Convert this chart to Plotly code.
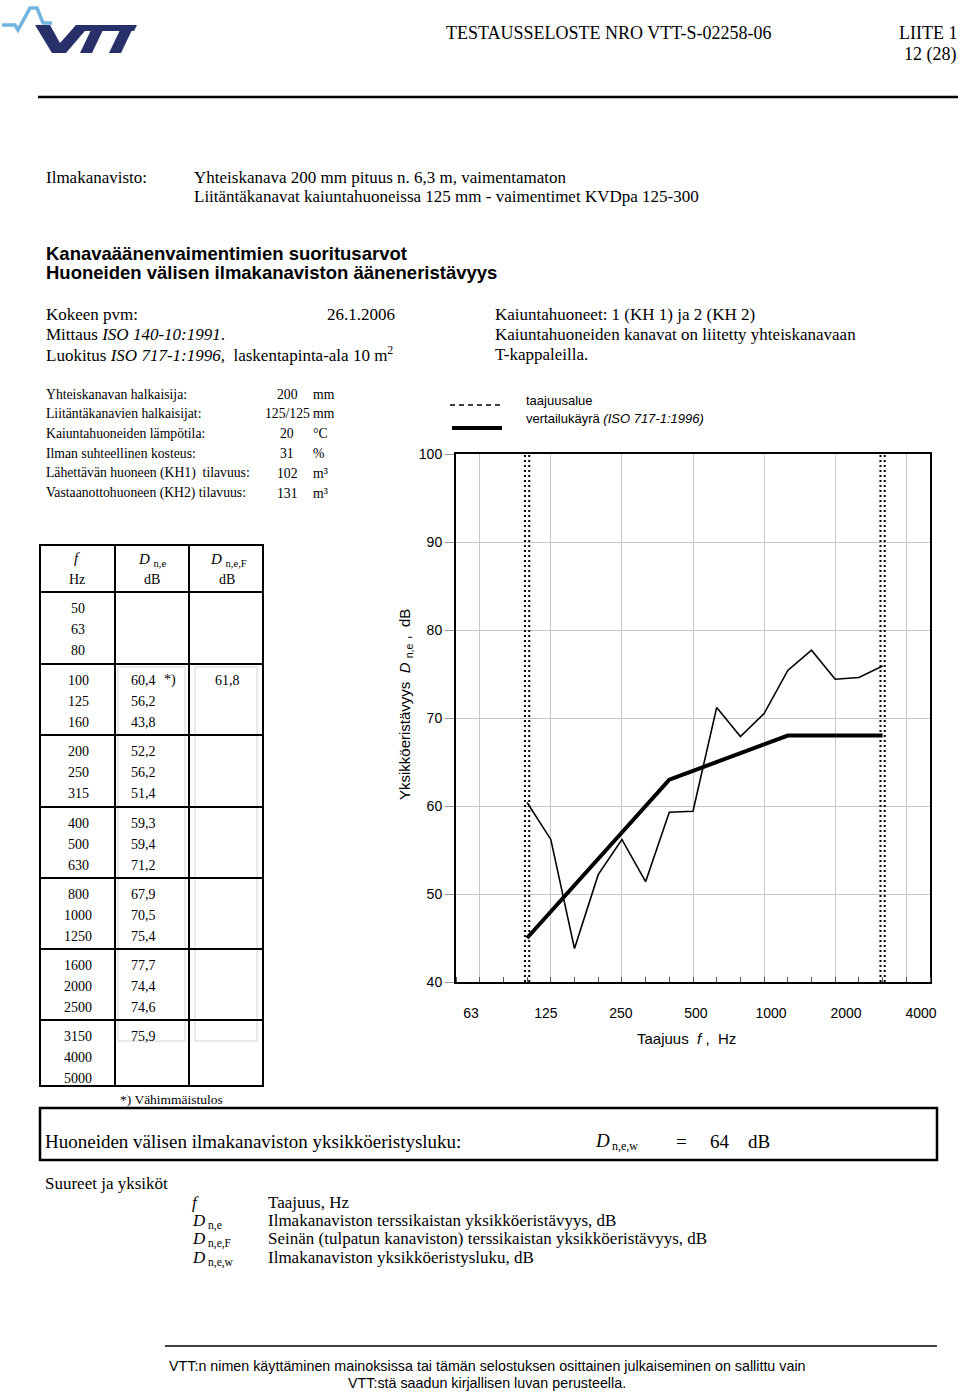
import plotly.graph_objects as go

# ---------------- data ----------------
BANDS = ["50", "63", "80", "100", "125", "160", "200", "250", "315", "400", "500",
         "630", "800", "1000", "1250", "1600", "2000", "2500", "3150", "4000", "5000"]
DNE_BANDS = ["100", "125", "160", "200", "250", "315", "400", "500", "630", "800",
             "1000", "1250", "1600", "2000", "2500", "3150"]
DNE_VALUES = [60.4, 56.2, 43.8, 52.2, 56.2, 51.4, 59.3, 59.4, 71.2, 67.9,
              70.5, 75.4, 77.7, 74.4, 74.6, 75.9]
REF_VALUES = [45, 48, 51, 54, 57, 60, 63, 64, 65, 66, 67, 68, 68, 68, 68, 68]
DNEF_BANDS = ["100"]
DNEF_VALUES = [61.8]
RANGE_BANDS = ["100", "3150"]
TICK_LABELS = ["63", "125", "250", "500", "1000", "2000", "4000"]
Y_MIN, Y_MAX = 40, 100
DNEW = 64

PARAM_LABELS = ["Yhteiskanavan halkaisija:", "Liitäntäkanavien halkaisijat:",
                "Kaiuntahuoneiden lämpötila:", "Ilman suhteellinen kosteus:",
                "Lähettävän huoneen (KH1)  tilavuus:", "Vastaanottohuoneen (KH2) tilavuus:"]
PARAM_VALUES = ["200", "125/125", "20", "31", "102", "131"]
PARAM_UNITS = ["mm", "mm", "°C", "%", "m³", "m³"]

# ---------------- page geometry ----------------
W, H = 960, 1392
L, R, T, B = 456, 930, 454, 982
SERIF = "Liberation Serif, Times New Roman, serif"
SANS = "Liberation Sans, Arial, sans-serif"


def px(x):
    return (x - L) / (R - L)


def py(y):
    return (B - y) / (B - T)


ann = []
shapes = []


def txt(x, y, s, size=16, fam=SERIF, xa="left", angle=0, color="black",
        style="normal", weight="normal"):
    ann.append(dict(xref="paper", yref="paper", x=px(x), y=py(y), text=s,
                    showarrow=False, xanchor=xa, yanchor="middle", textangle=angle,
                    font=dict(family=fam, size=size, color=color, style=style, weight=weight),
                    borderpad=0))


def seg(x0, y0, x1, y1, w=1.0, c="black", dash=None):
    ln = dict(color=c, width=w)
    if dash:
        ln["dash"] = dash
    shapes.append(dict(type="line", xref="paper", yref="paper", x0=px(x0), y0=py(y0),
                       x1=px(x1), y1=py(y1), line=ln))


def rect(x0, y0, x1, y1, w=1.0, c="black"):
    shapes.append(dict(type="rect", xref="paper", yref="paper", x0=px(x0), y0=py(y0),
                       x1=px(x1), y1=py(y1), line=dict(color=c, width=w)))


def poly(points, fill):
    d = "M " + " L ".join(f"{px(a):.5f},{py(b):.5f}" for a, b in points) + " Z"
    shapes.append(dict(type="path", xref="paper", yref="paper", path=d,
                       fillcolor=fill, line=dict(width=0)))


def polyline(points, color, w):
    d = "M " + " L ".join(f"{px(a):.5f},{py(b):.5f}" for a, b in points)
    shapes.append(dict(type="path", xref="paper", yref="paper", path=d,
                       line=dict(color=color, width=w)))


def fmt(v):
    return f"{v:.1f}".replace(".", ",")


# ---------------- logo ----------------
polyline([(2, 25), (15, 25), (18, 30), (30, 8), (37, 8), (43, 23), (52, 23)], "#72B4E2", 3.5)
NAVY = "#28306A"
poly([(35, 25), (50, 25), (60, 43), (76, 25), (90, 25), (66, 53), (52, 53)], NAVY)
poly([(76, 25), (137, 25), (134, 31), (73, 31)], NAVY)
poly([(91, 30), (103, 30), (92, 53), (80, 53)], NAVY)
poly([(120, 30), (132, 30), (121, 53), (109, 53)], NAVY)

# ---------------- header ----------------
txt(445, 33, "TESTAUSSELOSTE NRO VTT-S-02258-06", 18)
txt(958, 33, "LIITE 1", 18, xa="right")
txt(958, 54, "12 (28)", 18, xa="right")
seg(38, 97, 958, 97, 2.5)

txt(45, 177, "Ilmakanavisto:", 17)
txt(193, 177, "Yhteiskanava 200 mm pituus n. 6,3 m, vaimentamaton", 17)
txt(193, 196, "Liitäntäkanavat kaiuntahuoneissa 125 mm - vaimentimet KVDpa 125-300", 17)

txt(45, 253, "Kanavaäänenvaimentimien suoritusarvot", 18.5, SANS, weight="bold")
txt(45, 272, "Huoneiden välisen ilmakanaviston ääneneristävyys", 18.5, SANS, weight="bold")

txt(45, 314, "Kokeen pvm:", 17)
txt(396, 314, "26.1.2006", 17, xa="right")
txt(45, 334, "Mittaus <i>ISO 140-10:1991</i>.", 17)
txt(45, 354, "Luokitus <i>ISO 717-1:1996,</i>  laskentapinta-ala 10 m<sup>2</sup>", 17)
txt(494, 314, "Kaiuntahuoneet: 1 (KH 1) ja 2 (KH 2)", 17)
txt(494, 334, "Kaiuntahuoneiden kanavat on liitetty yhteiskanavaan", 17)
txt(494, 354, "T-kappaleilla.", 17)

for i, (lab, val, unit) in enumerate(zip(PARAM_LABELS, PARAM_VALUES, PARAM_UNITS)):
    yy = 394 + i * 19.8
    txt(45, yy, lab, 13.7)
    if len(val) > 3:
        txt(311, yy, val, 13.7, xa="right")
    else:
        txt(287, yy, val, 13.7, xa="center")
    txt(312, yy, unit, 13.7)

# ---------------- legend (drawn) ----------------
seg(450, 405, 502, 405, 1.5, dash="5px,4px")
seg(452, 428, 502, 428, 4)
txt(525, 400, "taajuusalue", 13, SANS)
txt(525, 418, "vertailukäyrä <i>(ISO 717-1:1996)</i>", 13, SANS)

# ---------------- table ----------------
TX0, TX1, TX2, TX3 = 40, 115, 189, 263
TY_TOP, TY_HEAD, TY_BOT = 545, 592, 1086
GROUP_TOPS = [592, 664, 735, 807, 878, 949, 1020]
rect(118, 667, 185, 1041, 1, "#d4d4d4")
rect(195, 667, 257, 1041, 1, "#d4d4d4")
rect(TX0, TY_TOP, TX3, TY_BOT, 2)
seg(TX1, TY_TOP, TX1, TY_BOT, 2)
seg(TX2, TY_TOP, TX2, TY_BOT, 2)
for gy in GROUP_TOPS:
    seg(TX0, gy, TX3, gy, 2)

txt(77, 558, "f", 15, xa="center", style="italic")
txt(77, 579, "Hz", 14, xa="center")
txt(152, 560, "<i>D</i> <sub>n,e</sub>", 15, xa="center")
txt(152, 579, "dB", 14, xa="center")
txt(228, 560, "<i>D</i> <sub>n,e,F</sub>", 15, xa="center")
txt(227, 579, "dB", 14, xa="center")

for i, band in enumerate(BANDS):
    g, k = divmod(i, 3)
    yy = GROUP_TOPS[g] + 16 + 21 * k
    txt(78, yy, band, 14, xa="center")
    if band in DNE_BANDS:
        txt(130, yy, fmt(DNE_VALUES[DNE_BANDS.index(band)]), 14)
    if band in DNEF_BANDS:
        txt(227, yy, fmt(DNEF_VALUES[DNEF_BANDS.index(band)]), 14, xa="center")
    if band == RANGE_BANDS[0]:
        txt(170, yy, "*)", 14, xa="center")
txt(171, 1099, "*) Vähimmäistulos", 13.5, xa="center")

# ---------------- result box ----------------
rect(40, 1108, 937, 1160, 2.5)
txt(44, 1141, "Huoneiden välisen ilmakanaviston yksikköeristysluku:", 19)
txt(594, 1140, "D", 19, style="italic")
txt(611, 1146, "n,e,w", 12)
txt(681, 1141, "=", 19, xa="center")
txt(720, 1141, str(DNEW), 19, xa="center")
txt(759, 1141, "dB", 19, xa="center")

# ---------------- quantities ----------------
txt(44, 1183, "Suureet ja yksiköt", 17)
SYMS = [("f", ""), ("D", "n,e"), ("D", "n,e,F"), ("D", "n,e,w")]
DESCS = ["Taajuus, Hz", "Ilmakanaviston terssikaistan yksikköeristävyys, dB",
         "Seinän (tulpatun kanaviston) terssikaistan yksikköeristävyys, dB",
         "Ilmakanaviston yksikköeristysluku, dB"]
for i, ((s, sub), d) in enumerate(zip(SYMS, DESCS)):
    yy = [1202, 1220, 1238, 1257][i]
    txt(191, yy, s, 17, style="italic")
    if sub:
        txt(207, yy + 5, sub, 11.5)
    txt(267, yy, d, 17)

# ---------------- footer ----------------
seg(165, 1346, 937, 1346, 1.5)
txt(487, 1366, "VTT:n nimen käyttäminen mainoksissa tai tämän selostuksen osittainen julkaiseminen on sallittu vain", 14.3, SANS, xa="center")
txt(487, 1383, "VTT:stä saadun kirjallisen luvan perusteella.", 14.3, SANS, xa="center")

# ---------------- chart ----------------
fig = go.Figure()
idx = {b: i for i, b in enumerate(BANDS)}

for b in RANGE_BANDS:
    for off in (-0.09, 0.09):
        fig.add_trace(go.Scatter(x=[idx[b] + off, idx[b] + off], y=[Y_MIN, Y_MAX], mode="lines",
                                 line=dict(color="black", width=2, dash="2px,3px"),
                                 name="taajuusalue", showlegend=False, hoverinfo="skip"))

fig.add_trace(go.Scatter(x=[idx[b] for b in DNE_BANDS], y=REF_VALUES, mode="lines",
                         line=dict(color="black", width=4), name="vertailukäyrä (ISO 717-1:1996)",
                         showlegend=False))
fig.add_trace(go.Scatter(x=[idx[b] for b in DNE_BANDS], y=DNE_VALUES, mode="lines",
                         xaxis="x2", yaxis="y",
                         line=dict(color="black", width=1.6), name="D n,e", showlegend=False))

X_RANGE = [0, len(BANDS) - 1]
# tick-label positions (Excel-like spread under the gridlines)
tick_pos = [0.63 + k * 3.165 for k in range(len(TICK_LABELS))]

fig.update_layout(
    xaxis=dict(range=X_RANGE, tickmode="array", tickvals=[idx[t] for t in TICK_LABELS],
               showticklabels=False, ticks="", showgrid=True, gridcolor="#c6c6c6", gridwidth=1,
               zeroline=False,
               minor=dict(tickmode="linear", tick0=0, dtick=1, ticks="inside", ticklen=5,
                          tickcolor="#555555", tickwidth=1, showgrid=False),
               showline=True, mirror=True, linecolor="black", linewidth=2),
    xaxis2=dict(range=X_RANGE, overlaying="x", anchor="y", side="bottom",
                tickmode="array", tickvals=tick_pos, ticktext=TICK_LABELS, ticks="",
                ticklabelstandoff=21, showgrid=False, zeroline=False, showline=False,
                tickfont=dict(family=SANS, size=14, color="black")),
    yaxis=dict(range=[Y_MIN, Y_MAX], dtick=10, showgrid=True, gridcolor="#c6c6c6", gridwidth=1,
               zeroline=False, ticks="outside", ticklen=9, tickcolor="#9a9a9a",
               tickfont=dict(family=SANS, size=14, color="black"),
               showline=True, mirror=True, linecolor="black", linewidth=2),
)

txt(405, 705, "Yksikköeristävyys  <i>D</i> <sub>n,e</sub> ,  dB", 15, SANS, xa="center", angle=-90)
txt(686, 1038, "Taajuus  <i>f</i> ,  Hz", 15, SANS, xa="center")

fig.update_layout(width=W, height=H, margin=dict(l=L, r=W - R, t=T, b=H - B),
                  paper_bgcolor="white", plot_bgcolor="white", showlegend=False,
                  annotations=ann, shapes=shapes)
fig.write_html("out.html", config={"displayModeBar": False})
